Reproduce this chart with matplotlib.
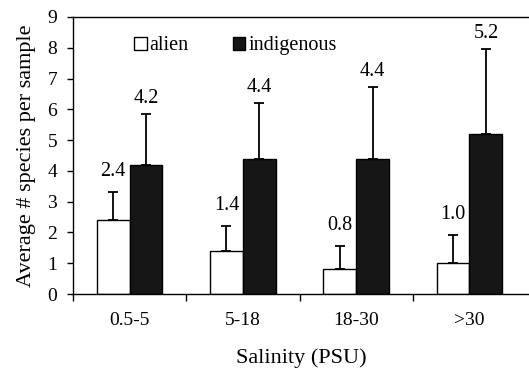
import numpy as np
import matplotlib
matplotlib.use("Agg")
import matplotlib.pyplot as plt

plt.rcParams["font.family"] = ["Liberation Serif", "DejaVu Serif"]
plt.rcParams["font.size"] = 14

categories = ["0.5-5", "5-18", "18-30", ">30"]
alien = [2.4, 1.4, 0.8, 1.0]
alien_err = [0.9, 0.8, 0.75, 0.92]
indigenous = [4.2, 4.4, 4.4, 5.2]
indigenous_err = [1.65, 1.82, 2.33, 2.77]
alien_labels = ["2.4", "1.4", "0.8", "1.0"]
indigenous_labels = ["4.2", "4.4", "4.4", "5.2"]

fig = plt.figure(figsize=(5.29, 3.68), dpi=100)
ax = fig.add_axes([0.138, 0.201, 0.863, 0.753])

x = np.arange(len(categories))
width = 0.29

ax.bar(
    x - width / 2, alien, width,
    color="white", edgecolor="black", linewidth=1.0,
    yerr=[np.zeros(len(alien)), alien_err],
    error_kw=dict(ecolor="black", elinewidth=1.3, capsize=3.5, capthick=1.3),
    label="alien",
)
ax.bar(
    x + width / 2, indigenous, width,
    color="#161616", edgecolor="black", linewidth=1.0,
    yerr=[np.zeros(len(indigenous)), indigenous_err],
    error_kw=dict(ecolor="black", elinewidth=1.3, capsize=3.5, capthick=1.3),
    label="indigenous",
)

for i in range(len(categories)):
    ax.annotate(
        alien_labels[i], (x[i] - width / 2, alien[i] + alien_err[i]),
        xytext=(0, 8), textcoords="offset points", ha="center", va="bottom",
        fontsize=14.5,
    )
    ax.annotate(
        indigenous_labels[i], (x[i] + width / 2, indigenous[i] + indigenous_err[i]),
        xytext=(0, 4), textcoords="offset points", ha="center", va="bottom",
        fontsize=14.5,
    )

ax.set_xlim(-0.5, len(categories) - 0.47)
ax.set_ylim(0, 9)
ax.set_yticks(range(10))
ax.tick_params(axis="y", direction="out", length=4.5, width=1, labelsize=14, pad=7)

ax.set_xticks(np.arange(len(categories)) - 0.5)
ax.set_xticklabels([])
ax.set_xticks(x, minor=True)
ax.set_xticklabels(categories, minor=True, fontsize=14)
ax.tick_params(axis="x", which="major", direction="out", length=5, width=1)
ax.tick_params(axis="x", which="minor", length=0, pad=13)

for s in ax.spines.values():
    s.set_linewidth(1.0)
ax.spines["right"].set_visible(False)

ax.set_ylabel("Average # species per sample", fontsize=16, labelpad=8)
ax.set_xlabel("Salinity (PSU)", fontsize=16, labelpad=14)

ax.legend(
    loc="upper left", bbox_to_anchor=(0.095, 0.995), ncol=2, frameon=False,
    fontsize=14.5, handlelength=0.6, handleheight=0.6, handletextpad=0.15,
    columnspacing=2.2,
)

fig.savefig("out.png", dpi=100)
